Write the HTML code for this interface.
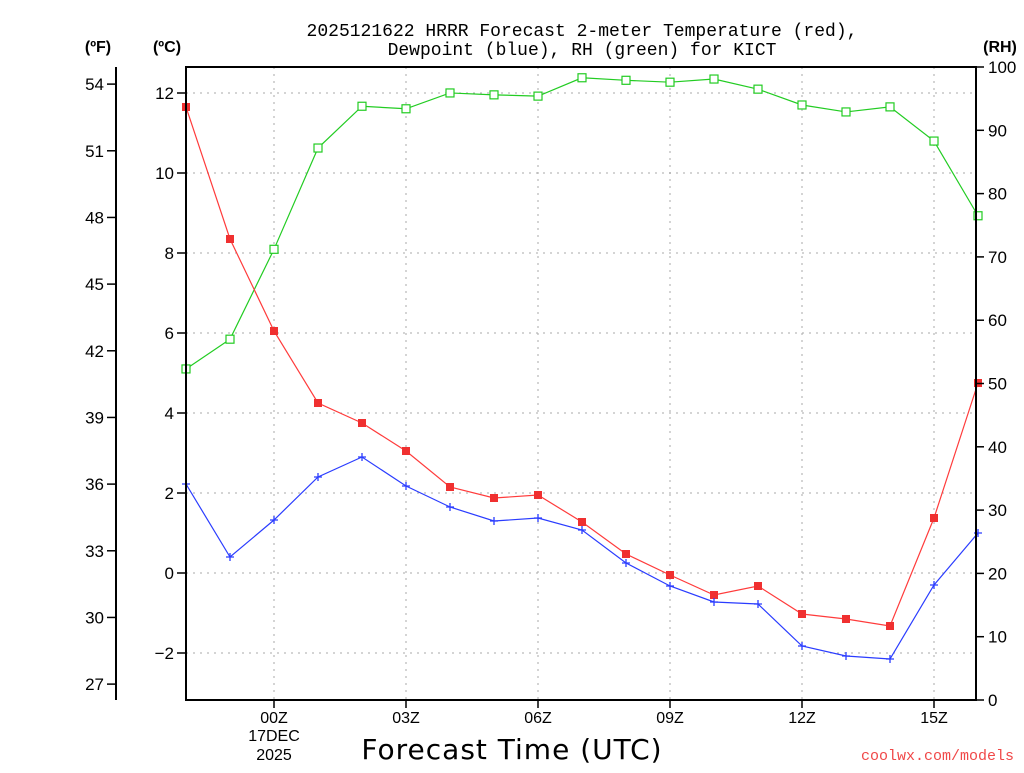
<!DOCTYPE html>
<html><head><meta charset="utf-8"><style>
body{margin:0;background:#fff;}
svg text{font-family:"Liberation Sans","DejaVu Sans",sans-serif;}
</style></head><body>
<svg id="chart" width="1024" height="768" xmlns="http://www.w3.org/2000/svg">
<g id="grid"></g>
<g id="series"></g>
<g id="axes"></g>
<text x="582" y="36" text-anchor="middle" font-size="18" style="font-family:'Liberation Mono',monospace">2025121622 HRRR Forecast 2-meter Temperature (red),</text>
<text x="582" y="55" text-anchor="middle" font-size="18" style="font-family:'Liberation Mono',monospace">Dewpoint (blue), RH (green) for KICT</text>
<text x="98" y="52" text-anchor="middle" font-size="16" font-weight="bold">(ºF)</text>
<text x="167" y="52" text-anchor="middle" font-size="16" font-weight="bold">(ºC)</text>
<text x="1000" y="52" text-anchor="middle" font-size="16" font-weight="bold">(RH)</text>
<text x="512" y="759" text-anchor="middle" font-size="28" letter-spacing="1" style="font-family:'DejaVu Sans',sans-serif">Forecast Time (UTC)</text>
<text x="1014" y="760" text-anchor="end" font-size="15" fill="#f04848" style="font-family:'Liberation Mono',monospace">coolwx.com/models</text>
</svg>
<script>
const hours=[-2,-1,0,1,2,3,4,5,6,7,8,9,10,11,12,13,14,15,16];
const tempC=[11.65,8.35,6.05,4.25,3.75,3.05,2.15,1.875,1.95,1.275,0.475,-0.05,-0.55,-0.325,-1.025,-1.15,-1.325,1.375,4.75];
const dewC=[2.225,0.4,1.325,2.4,2.9,2.175,1.65,1.3,1.375,1.075,0.25,-0.325,-0.725,-0.775,-1.825,-2.075,-2.15,-0.3,1.0];
const rh=[52.3,57,71.2,87.2,93.8,93.4,95.9,95.6,95.4,98.3,97.9,97.6,98.1,96.5,94,92.9,93.7,88.3,76.5];
const cTicks=[-2,0,2,4,6,8,10,12];
const fTicks=[27,30,33,36,39,42,45,48,51,54];
const rhTicks=[0,10,20,30,40,50,60,70,80,90,100];
const xTickHours=[0,3,6,9,12,15];
const xTickLabels=["00Z","03Z","06Z","09Z","12Z","15Z"];
const L=186,R=976,T=67,B=700;
const NS='http://www.w3.org/2000/svg';
const x=h=>274+44*h;
const yC=c=>573-40*c;
const yF=f=>yC((f-32)*5/9);
const yR=r=>B-(B-T)*r/100;
function mk(tag,attrs,parent){const e=document.createElementNS(NS,tag);for(const k in attrs)e.setAttribute(k,attrs[k]);parent.appendChild(e);return e;}
const grid=document.getElementById('grid'),ser=document.getElementById('series'),ax=document.getElementById('axes');
cTicks.forEach(c=>{const l=mk('line',{x1:L,x2:R,y1:yC(c),y2:yC(c),stroke:'#aaa','stroke-dasharray':'2,5'},grid);

});
xTickHours.forEach(h=>{const l=mk('line',{x1:x(h),x2:x(h),y1:T,y2:B,stroke:'#aaa','stroke-dasharray':'2,5'},grid);

});
function line(vals,yf,color,name){
  const pts=vals.map((v,i)=>x(hours[i])+','+yf(v)).join(' ');
  const p=mk('polyline',{points:pts,fill:'none',stroke:color,'stroke-width':1.2},ser);
  
  
}
line(rh,yR,'#22cc22','rh');line(tempC,yC,'#ff3b3b','temperature');line(dewC,yC,'#2a3cff','dewpoint');
rh.forEach((v,i)=>{const m=mk('rect',{x:x(hours[i])-4,y:yR(v)-4,width:8,height:8,fill:'#fff',stroke:'#22cc22','stroke-width':1.2},ser);

});
tempC.forEach((v,i)=>{const m=mk('rect',{x:x(hours[i])-4,y:yC(v)-4,width:8,height:8,fill:'#f03030'},ser);

});
dewC.forEach((v,i)=>{const cx=x(hours[i]),cy=yC(v);const m=mk('path',{d:`M${cx-4},${cy}H${cx+4}M${cx},${cy-4}V${cy+4}`,stroke:'#2a3cff','stroke-width':1.3},ser);

});
const fr=mk('rect',{x:L,y:T,width:R-L,height:B-T,fill:'none',stroke:'#000','stroke-width':2},ax);


cTicks.forEach(c=>{mk('line',{x1:L-9,x2:L,y1:yC(c),y2:yC(c),stroke:'#000','stroke-width':1.5},ax);
const t=mk('text',{x:L-12,y:yC(c)+6,'text-anchor':'end','font-size':17},ax);t.textContent=(c<0?'\u2212'+(-c):c);

});
const fa=mk('line',{x1:116,x2:116,y1:T,y2:B,stroke:'#000','stroke-width':2},ax);


fTicks.forEach(f=>{mk('line',{x1:107,x2:116,y1:yF(f),y2:yF(f),stroke:'#000','stroke-width':1.5},ax);
const t=mk('text',{x:104,y:yF(f)+6,'text-anchor':'end','font-size':17},ax);t.textContent=f;

});
rhTicks.forEach(r=>{mk('line',{x1:R,x2:R+8,y1:yR(r),y2:yR(r),stroke:'#000','stroke-width':1.5},ax);
const t=mk('text',{x:988,y:yR(r)+6,'font-size':17},ax);t.textContent=r;

});
xTickHours.forEach((h,i)=>{mk('line',{x1:x(h),x2:x(h),y1:B,y2:B+8,stroke:'#000','stroke-width':1.5},ax);
const t=mk('text',{x:x(h),y:723,'text-anchor':'middle','font-size':16},ax);t.textContent=xTickLabels[i];

});
[['17DEC',741],['2025',760]].forEach(a=>{const t=mk('text',{x:274,y:a[1],'text-anchor':'middle','font-size':16},ax);t.textContent=a[0];

});
</script>
</body></html>
